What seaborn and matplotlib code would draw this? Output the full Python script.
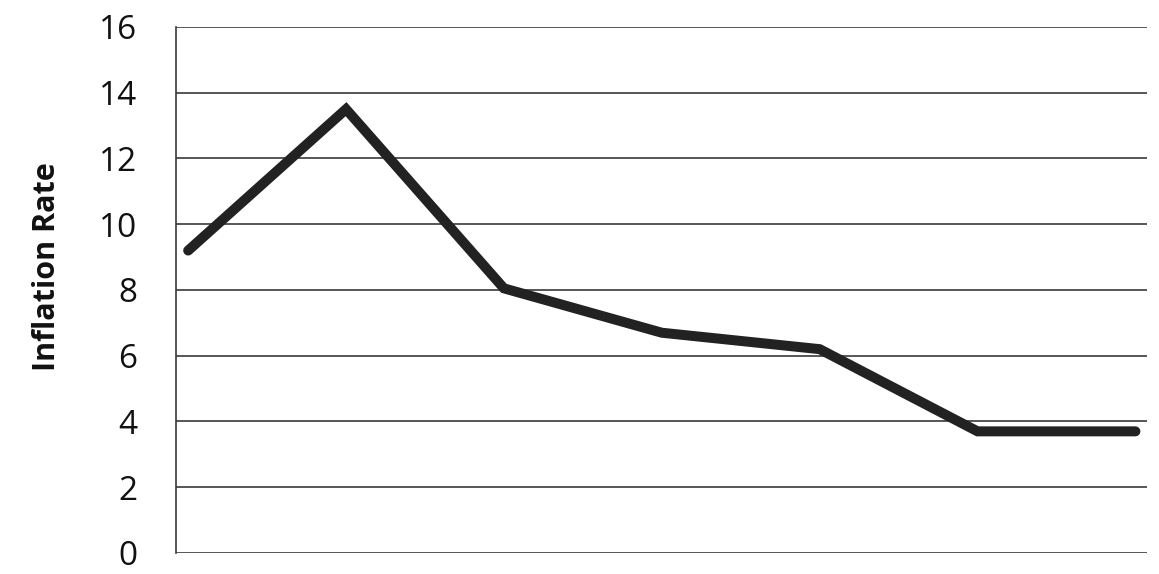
import matplotlib
matplotlib.use("Agg")
import matplotlib.pyplot as plt
import seaborn as sns
import pandas as pd

# values
periods = [1, 2, 3, 4, 5, 6, 7]
inflation = [9.2, 13.5, 8.05, 6.7, 6.2, 3.7, 3.7]
y_ticks = [0, 2, 4, 6, 8, 10, 12, 14, 16]

df = pd.DataFrame({"period": periods, "inflation": inflation})

sns.set_theme(style="white")
plt.rcParams["font.family"] = ["Open Sans", "DejaVu Sans"]

fig = plt.figure(figsize=(11.59, 5.74), dpi=100)
ax = fig.add_axes([0.152, 0.0366, 0.838, 0.9164])

# horizontal gridlines, drawn under the line
for t in y_ticks:
    ax.axhline(t, color="#3a3a3a", linewidth=1.2, zorder=1)

sns.lineplot(data=df, x="period", y="inflation", ax=ax, color="#222222",
             linewidth=7.2, solid_capstyle="round", solid_joinstyle="miter",
             zorder=3)

ax.set_xlim(periods[0] - 0.076, periods[-1] + 0.076)
ax.set_ylim(0, 16)
ax.set_yticks(y_ticks)
ax.set_xticks([])
ax.set_xlabel("")
ax.set_ylabel("Inflation Rate", fontsize=22, fontweight="bold",
              color="#111111",
              family=["Liberation Sans Narrow", "Open Sans", "DejaVu Sans"])
ax.yaxis.set_label_coords(-0.118, 0.545)
ax.tick_params(axis="y", labelsize=24, pad=28, length=0, colors="#111111")

for side in ["top", "right", "bottom"]:
    ax.spines[side].set_visible(False)
ax.spines["left"].set_color("#3a3a3a")
ax.spines["left"].set_linewidth(1.2)

fig.savefig("out.png", dpi=100)
plt.close()
